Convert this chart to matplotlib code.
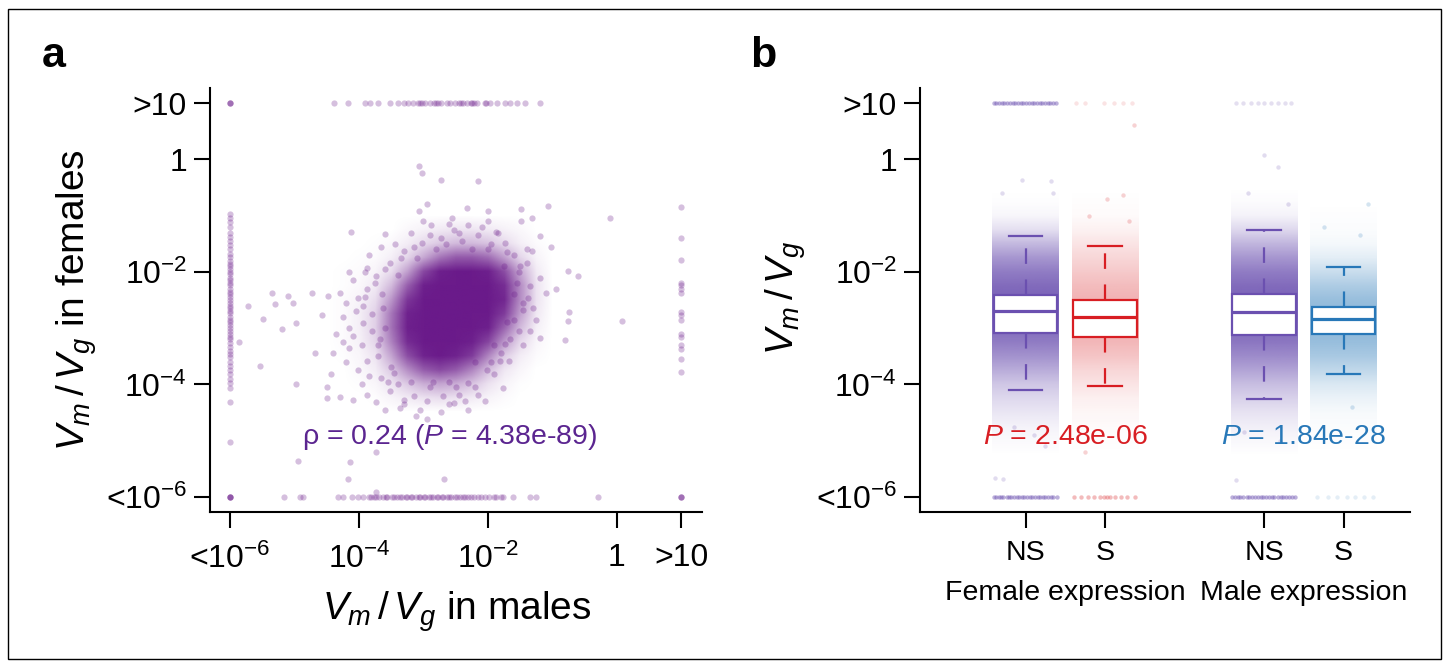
import numpy as np
import matplotlib
matplotlib.use("Agg")
import matplotlib.pyplot as plt
from matplotlib.colors import to_rgb
from matplotlib.patches import Rectangle

plt.rcParams['font.family'] = ['Liberation Sans', 'DejaVu Sans']
plt.rcParams['mathtext.fontset'] = 'custom'
plt.rcParams['mathtext.rm'] = 'Liberation Sans'
plt.rcParams['mathtext.it'] = 'Liberation Sans:italic'
plt.rcParams['mathtext.bf'] = 'Liberation Sans:bold'

# ---------------- panel a data (log10 Vm/Vg) ----------------
# density of the central cloud, rows from y=-1.0 (top) to y=-4.5
dens_x = [-4.5, -4.25, -4.0, -3.75, -3.5, -3.25, -3.0, -2.75, -2.5, -2.25, -2.0, -1.75, -1.5, -1.25, -1.0]
dens_y = [-1.0, -1.25, -1.5, -1.75, -2.0, -2.25, -2.5, -2.75, -3.0, -3.25, -3.5, -3.75, -4.0, -4.25, -4.5]
dens = [
    [0, 0, 0, 0, 0, 0, 0, 0, 0, 0, 0, 0, 0, 0, 0],
    [0, 0, 0, 0, 0, 0.03, 0.06, 0.09, 0.11, 0.11, 0.09, 0.06, 0.03, 0, 0],
    [0, 0, 0, 0.01, 0.03, 0.08, 0.16, 0.24, 0.3, 0.3, 0.26, 0.16, 0.07, 0.02, 0],
    [0, 0, 0.01, 0.02, 0.07, 0.18, 0.38, 0.6, 0.72, 0.72, 0.64, 0.42, 0.18, 0.05, 0],
    [0, 0.01, 0.02, 0.05, 0.15, 0.42, 0.8, 0.98, 1, 1, 0.98, 0.78, 0.38, 0.09, 0],
    [0, 0.01, 0.03, 0.09, 0.3, 0.7, 0.98, 1, 1, 1, 1, 0.92, 0.5, 0.12, 0],
    [0, 0.02, 0.05, 0.15, 0.46, 0.88, 1, 1, 1, 1, 1, 0.95, 0.5, 0.12, 0],
    [0, 0.02, 0.07, 0.2, 0.6, 0.97, 1, 1, 1, 1, 1, 0.86, 0.42, 0.1, 0],
    [0, 0.02, 0.07, 0.21, 0.62, 0.98, 1, 1, 1, 1, 0.98, 0.68, 0.3, 0.07, 0],
    [0, 0.02, 0.06, 0.18, 0.55, 0.93, 1, 1, 1, 0.98, 0.82, 0.45, 0.17, 0.04, 0],
    [0, 0.01, 0.04, 0.12, 0.4, 0.78, 0.97, 1, 0.97, 0.86, 0.54, 0.23, 0.08, 0.02, 0],
    [0, 0, 0.03, 0.08, 0.24, 0.5, 0.72, 0.8, 0.72, 0.54, 0.29, 0.11, 0.04, 0, 0],
    [0, 0, 0.01, 0.04, 0.12, 0.24, 0.36, 0.4, 0.36, 0.26, 0.13, 0.05, 0.01, 0, 0],
    [0, 0, 0, 0.01, 0.05, 0.09, 0.13, 0.15, 0.13, 0.09, 0.05, 0.02, 0, 0, 0],
    [0, 0, 0, 0, 0, 0, 0, 0, 0, 0, 0, 0, 0, 0, 0],
]

# scattered genes around the cloud (males, females)
cloud_x = [-3.07, -3.03, -2.73, -2.16, -2.95, -3.07, -2.32, -2.00, -1.49, -1.07, -0.11, -1.48, -1.32,
           -2.88, -4.12, -3.60, -1.20, -1.02, -1.31, -0.76, -0.61, -0.95, -1.10, -0.74, -0.76, 0.08,
           -0.80, -1.20, -1.35, -1.74, -1.81, -1.91, -1.76, -2.16, -2.31, -2.52, -2.73, -2.95, -3.12,
           -3.37, -3.59, -3.73, -3.87, -4.09, -4.30, -4.49, -4.49, -4.44, -4.68, -4.98, -4.98, -5.19,
           -5.53, -5.86, -5.72, -5.49, -5.35, -5.30, -5.10, -5.03, -4.73, -4.58, -4.48, -4.30, -4.16,
           -4.09, -3.87, -3.84, -3.66, -3.44, -4.94, -4.14, -4.17, -3.73, -2.68, -3.73,
           -4.01, -3.94, -4.09, -4.16, -3.87, -4.01, -3.66, -3.52, -3.30, -2.45, -2.31, -2.02, -1.67,
           -1.52, -1.45, -1.38, -1.52, -1.59, -1.74, -1.88, -2.09, -2.31, -2.52, -2.73, -3.02, -3.30,
           -3.52, -3.73, -3.87, -3.94, -3.6, -3.7, -3.5, -3.2, -2.9, -2.6, -2.2, -1.9, -1.7, -1.6,
           -1.75, -2.0, -2.4, -2.8, -3.1, -3.4, -3.65, -3.8, -4.25, -4.35, -4.2, -3.95, -2.05, -1.45,
           -1.25, -1.2, -1.4, -2.55, -3.2, -4.4,
           -4.2, -4.05, -3.9, -3.75, -3.8, -3.95, -3.7, -3.85, -4.15, -3.62, -3.68, -3.55, -4.25,
           -3.9, -3.6, -3.4, -3.15, -2.95, -2.7, -2.5, -2.35, -2.85, -3.05, -2.6, -3.3, -2.2, -3.45,
           -1.55, -1.45, -1.6, -1.5, -1.35, -1.65, -1.8, -1.95, -1.3, -1.7, -1.4, -2.15, -1.95,
           -2.45, -2.65, -2.9, -3.15, -3.35, -2.25, -1.85, -2.6, -3.0, -2.0]
cloud_y = [-0.12, -0.24, -0.37, -0.38, -0.80, -0.91, -0.87, -0.91, -0.89, -0.82, -1.04, -1.10, -1.05,
           -1.17, -1.29, -1.32, -1.36, -1.55, -1.63, -1.98, -2.08, -2.31, -2.38, -2.72, -2.87, -2.87,
           -3.21, -3.17, -3.06, -3.29, -3.59, -3.82, -4.06, -4.19, -4.46, -4.34, -4.49, -4.61, -4.57,
           -4.42, -4.46, -4.31, -4.19, -4.27, -4.23, -4.25, -4.04, -3.82, -3.45, -3.99, -2.91, -3.02,
           -3.68, -3.25, -2.61, -2.83, -2.38, -2.58, -2.43, -2.56, -2.38, -2.76, -2.42, -2.38, -2.00,
           -2.15, -1.93, -1.70, -1.55, -1.51, -5.36, -5.38, -5.68, -5.20, -5.68, -5.92,
           -2.46, -2.91, -3.14, -3.36, -3.59, -3.74, -3.89, -4.12, -4.27, -4.19, -3.97, -3.74, -3.59,
           -3.06, -2.68, -2.46, -2.00, -1.70, -1.48, -1.29, -1.21, -1.17, -1.25, -1.40, -1.48, -1.63,
           -1.85, -2.08, -2.31, -2.61, -3.0, -3.3, -3.7, -3.95, -4.05, -3.95, -3.6, -3.3, -2.9, -2.4,
           -1.9, -1.6, -1.45, -1.6, -1.75, -2.05, -2.4, -2.75, -2.8, -3.1, -3.6, -4.0, -4.3, -3.3,
           -2.85, -2.1, -1.85, -1.05, -1.3, -3.45,
           -2.55, -2.7, -2.45, -2.2, -3.05, -3.3, -3.5, -3.85, -3.0, -2.65, -3.2, -3.95, -3.25,
           -2.0, -1.95, -4.0, -4.2, -4.3, -4.2, -4.05, -4.3, -3.95, -4.45, -4.35, -4.35, -4.05, -3.8,
           -2.2, -2.55, -2.85, -1.9, -2.25, -3.2, -3.45, -3.6, -2.65, -1.65, -1.6, -1.35, -1.5,
           -1.3, -1.5, -1.35, -1.55, -1.75, -1.6, -1.3, -1.15, -1.1, -1.1]

# genes with Vm/Vg > 10 in females (top row), by male value
top_row_x = [-6.0, -6.0, -6.0, -4.38, -4.17, -3.90, -3.83, -3.71, -3.52, -3.39, -3.30, -3.24, -3.16,
             -3.05, -3.02, -3.08, -2.98, -2.90, -2.80, -2.83, -2.77, -2.72, -2.64, -2.59, -2.51,
             -2.45, -2.41, -2.38, -2.33, -2.25, -2.27, -2.22, -2.17, -2.03, -2.05, -1.97, -1.86,
             -1.73, -1.66, -1.55, -1.42, -1.19]
# genes with Vm/Vg < 1e-6 in females (bottom row), by male value
bottom_row_x = [-6.0, -6.0, -6.0, -6.0, -5.17, -4.91, -4.86, -4.32, -4.24, -4.11, -4.01, -3.93, -3.85,
                -3.81, -3.77, -3.73, -3.69, -3.62, -3.58, -3.56, -3.49, -3.46, -3.41, -3.36, -3.34,
                -3.27, -3.25, -3.19, -3.17, -3.12, -3.07, -3.05, -2.99, -2.97, -2.91, -2.88, -2.85,
                -2.79, -2.77, -2.71, -2.69, -2.63, -2.61, -2.57, -2.51, -2.48, -2.43, -2.39, -2.36,
                -2.31, -2.26, -2.21, -2.15, -2.11, -2.04, -1.99, -1.91, -1.87, -1.8, -1.76, -1.61,
                -1.35, -1.25, -0.29, 1.0, 1.0, 1.0]
# genes with Vm/Vg < 1e-6 in males (left column), by female value
left_col_y = [-0.97, -1.05, -1.12, -1.2, -1.3, -1.38, -1.45, -1.52, -1.6, -1.68, -1.74, -1.8, -1.86,
              -1.9, -1.95, -2.0, -2.04, -2.1, -2.15, -2.2, -2.24, -2.3, -2.35, -2.4, -2.44, -2.5,
              -2.55, -2.6, -2.64, -2.7, -2.74, -2.8, -2.86, -2.9, -2.95, -3.0, -3.05, -3.1, -3.16,
              -3.2, -3.27, -3.33, -3.4, -3.46, -3.52, -3.6, -3.67, -3.74, -3.82, -3.9, -3.98, -4.06,
              -4.31, -5.02]
# genes with Vm/Vg > 10 in males (right column), by female value
right_col_y = [-0.85, -1.40, -1.78, -2.2, -2.24, -2.3, -2.38, -2.72, -2.76, -2.85, -3.1, -3.16,
               -3.3, -3.38, -3.55, -3.78]

# ---------------- panel b data ----------------
groups = ['NS', 'S', 'NS', 'S']
positions = [1, 2, 4, 5]
box_colors = ['#6b50b0', '#d81e23', '#6b50b0', '#2878b8']
box_whislo = [-4.10, -4.03, -4.26, -3.81]
box_q1 = [-3.08, -3.15, -3.13, -3.11]
box_med = [-2.70, -2.81, -2.72, -2.84]
box_q3 = [-2.41, -2.50, -2.39, -2.63]
box_whishi = [-1.36, -1.545, -1.25, -1.92]

# density of jittered points along each strip
strip_y = [-5.25, -5.0, -4.75, -4.5, -4.25, -4.0, -3.75, -3.5, -3.25, -3.0, -2.75, -2.5, -2.25,
           -2.0, -1.75, -1.5, -1.25, -1.0, -0.75, -0.5]
strip_ns_f = [0, 0.03, 0.07, 0.14, 0.22, 0.32, 0.47, 0.62, 0.75, 0.85, 0.9, 0.9, 0.85, 0.75, 0.6,
              0.4, 0.18, 0.05, 0.01, 0]
strip_s_f = [0, 0.01, 0.02, 0.04, 0.07, 0.12, 0.18, 0.26, 0.32, 0.36, 0.36, 0.34, 0.3, 0.24, 0.18,
             0.12, 0.06, 0.02, 0.01, 0]
strip_ns_m = [0, 0.04, 0.09, 0.16, 0.26, 0.37, 0.52, 0.66, 0.78, 0.85, 0.9, 0.9, 0.85, 0.75, 0.6,
              0.42, 0.22, 0.07, 0.02, 0]
strip_s_m = [0, 0.01, 0.02, 0.04, 0.09, 0.17, 0.29, 0.4, 0.48, 0.52, 0.52, 0.48, 0.38, 0.25, 0.13,
             0.05, 0.02, 0.01, 0, 0]
strips = [strip_ns_f, strip_s_f, strip_ns_m, strip_s_m]

# censored rows: jitter offsets of genes at >10 and <1e-6
top_off = [
    [-0.4, -0.37, -0.33, -0.3, -0.27, -0.23, -0.2, -0.16, -0.13, -0.1, -0.06, -0.03, 0.01, 0.04,
     0.08, 0.11, 0.14, 0.18, 0.21, 0.25, 0.28, 0.31, 0.35, 0.38],
    [-0.36, -0.25, -0.01, 0.11, 0.23, 0.34],
    [-0.35, -0.26, -0.17, -0.08, 0.0, 0.09, 0.17, 0.26, 0.34],
    [],
]
bot_off = [
    [-0.4, -0.37, -0.34, -0.31, -0.28, -0.24, -0.21, -0.18, -0.14, -0.11, -0.08, -0.05, -0.02,
     0.02, 0.05, 0.08, 0.12, 0.15, 0.18, 0.22, 0.25, 0.28, 0.32, 0.35, 0.39],
    [-0.39, -0.3, -0.22, -0.14, -0.07, -0.02, 0.02, 0.06, 0.13, 0.2, 0.28, 0.37],
    [-0.4, -0.36, -0.33, -0.3, -0.26, -0.22, -0.19, -0.15, -0.12, -0.08, -0.04, -0.01, 0.03,
     0.06, 0.1, 0.13, 0.17, 0.21, 0.24, 0.28, 0.31, 0.35, 0.39],
    [-0.33, -0.2, -0.08, 0.04, 0.14, 0.26, 0.37],
]
row_alpha_top = [0.45, 0.12, 0.18, 0.0]
row_alpha_bot = [0.45, 0.3, 0.45, 0.12]

# single outlying genes in panel b (position, log value, group index)
out_x = [0.95, 1.32, 1.35, 0.7, 0.62, 0.72, 1.1, 1.25, 0.85, 2.36, 2.02, 2.22, 1.75, 1.8, 2.3,
         4.0, 4.17, 3.8, 4.3, 3.65, 3.75, 4.2, 5.31, 5.2, 4.75, 5.1]
out_y = [-0.37, -0.39, -0.6, -0.6, -5.66, -5.68, -4.9, -5.1, -4.75, 0.61, -0.71, -0.64, -5.2,
         -1.0, -1.1, 0.08, -0.13, -0.6, -0.8, -5.7, -4.85, -5.0, -0.79, -1.34, -1.2, -4.4]
out_g = [0, 0, 0, 0, 0, 0, 0, 0, 0, 1, 1, 1, 1, 1, 1, 2, 2, 2, 2, 2, 2, 2, 3, 3, 3, 3]

tick_vals = [-6, -4, -2, 0, 1]
tick_labs = ['<10$^{-6}$', '10$^{-4}$', '10$^{-2}$', '1', '>10']

purple = '#6a1a8a'
vlab = r'$V_m\,/\,V_g$'

W, H = 1446, 666
fig = plt.figure(figsize=(W / 100, H / 100), dpi=100)


def style_axes(ax):
    for s in ['top', 'right']:
        ax.spines[s].set_visible(False)
    for s in ['left', 'bottom']:
        ax.spines[s].set_linewidth(1.5)
    ax.tick_params(length=11.5, width=1.5, labelsize=23)
    ax.tick_params(axis='y', pad=5)
    ax.tick_params(axis='x', pad=11)


# ---------------- panel a ----------------
axa = fig.add_axes([210 / W, 1 - 512 / H, 492 / W, 424 / H])
rgba = np.zeros((len(dens_y), len(dens_x), 4))
rgba[..., :3] = to_rgb(purple)
rgba[..., 3] = np.array(dens)
axa.imshow(rgba, extent=(dens_x[0] - 0.125, dens_x[-1] + 0.125, dens_y[-1] - 0.125, dens_y[0] + 0.125),
           origin='upper', aspect='auto', interpolation='bilinear', zorder=1)

pt = dict(s=20, color=purple, alpha=0.28, linewidths=0, zorder=2)
axa.scatter(cloud_x, cloud_y, **pt)
axa.scatter(top_row_x, [1] * len(top_row_x), **pt)
axa.scatter(bottom_row_x, [-6] * len(bottom_row_x), **pt)
axa.scatter([-6] * len(left_col_y), left_col_y, **pt)
axa.scatter([1] * len(right_col_y), right_col_y, **pt)

axa.text(-2.6, -4.93, 'ρ = 0.24 ($P$ = 4.38e-89)', ha='center', va='center',
         color='#5b2590', fontsize=20.5)

axa.set_xlim(-6.31, 1.32)
axa.set_ylim(-6.27, 1.27)
axa.set_xticks(tick_vals)
axa.set_xticklabels(tick_labs)
axa.set_yticks(tick_vals)
axa.set_yticklabels(tick_labs)
style_axes(axa)

# ---------------- panel b ----------------
axb = fig.add_axes([920 / W, 1 - 512 / H, 490 / W, 424 / H])
for i, p in enumerate(positions):
    band = np.zeros((len(strip_y), 1, 4))
    band[..., :3] = to_rgb(box_colors[i])
    band[:, 0, 3] = strips[i]
    axb.imshow(band, extent=(p - 0.42, p + 0.42, strip_y[0] - 0.125, strip_y[-1] + 0.125),
               origin='lower', aspect='auto', interpolation='bilinear', zorder=1)
    if top_off[i]:
        axb.scatter([p + o for o in top_off[i]], [1] * len(top_off[i]), s=10,
                    color=box_colors[i], alpha=row_alpha_top[i], linewidths=0, zorder=2)
    axb.scatter([p + o for o in bot_off[i]], [-6] * len(bot_off[i]), s=10,
                color=box_colors[i], alpha=row_alpha_bot[i], linewidths=0, zorder=2)

for x, y, g in zip(out_x, out_y, out_g):
    axb.scatter([x], [y], s=10, color=box_colors[g], alpha=0.2, linewidths=0, zorder=2)

for i, p in enumerate(positions):
    st = [dict(med=box_med[i], q1=box_q1[i], q3=box_q3[i], whislo=box_whislo[i],
               whishi=box_whishi[i], fliers=[])]
    c = box_colors[i]
    axb.bxp(st, positions=[p], widths=0.8, capwidths=0.42, patch_artist=True, showfliers=False,
            boxprops=dict(facecolor='white', edgecolor=c, linewidth=1.6),
            medianprops=dict(color=c, linewidth=2.3),
            whiskerprops=dict(color=c, linewidth=1.6, linestyle=(0, (7, 7))),
            capprops=dict(color=c, linewidth=1.6), zorder=3)

axb.text(1.5, -4.93, '$P$ = 2.48e-06', ha='center', va='center', color='#d81e23', fontsize=20.5)
axb.text(4.5, -4.93, '$P$ = 1.84e-28', ha='center', va='center', color='#2878b8', fontsize=20.5)

axb.set_xlim(-0.328, 5.835)
axb.set_ylim(-6.27, 1.27)
axb.set_xticks(positions)
axb.set_xticklabels(groups)
axb.set_yticks(tick_vals)
axb.set_yticklabels(tick_labs)
style_axes(axb)
axb.tick_params(axis='x', labelsize=20.5, pad=9)
tr = axb.get_xaxis_transform()
axb.text(1.5, -0.19, 'Female expression', transform=tr, ha='center', va='center', fontsize=20.5)
axb.text(4.5, -0.19, 'Male expression', transform=tr, ha='center', va='center', fontsize=20.5)

# axis titles and panel letters
fig.text(457 / W, 1 - 612 / H, vlab + ' in males', ha='center', va='center', fontsize=28)
fig.text(77 / W, 1 - 300 / H, vlab + ' in females', ha='center', va='center', fontsize=28,
         rotation=90)
fig.text(786 / W, 1 - 298 / H, vlab, ha='center', va='center', fontsize=28, rotation=90)
fig.text(42 / W, 1 - 67 / H, 'a', fontsize=31, fontweight='bold', ha='left', va='baseline')
fig.text(750 / W, 1 - 67 / H, 'b', fontsize=31, fontweight='bold', ha='left', va='baseline')

fig.add_artist(Rectangle((8 / W, 1 - 659 / H), 1433 / W, 650 / H, fill=False, lw=1,
                         ec='black', transform=fig.transFigure))

fig.savefig('out.png', dpi=100)
